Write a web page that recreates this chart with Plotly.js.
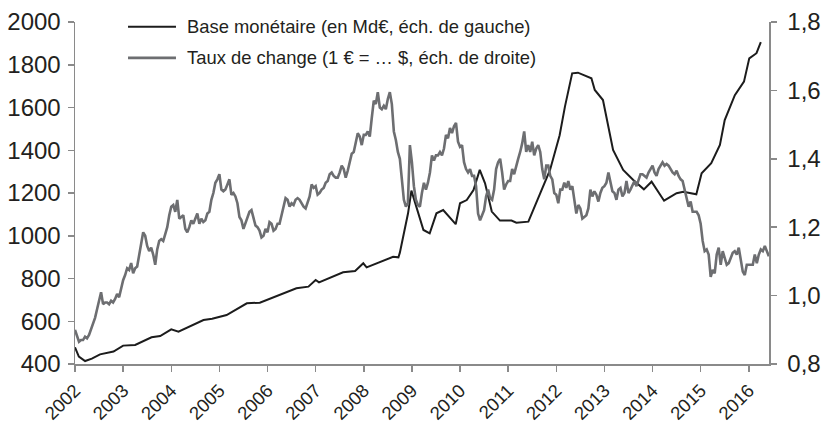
<!DOCTYPE html>
<html>
<head>
<meta charset="utf-8">
<script src="https://cdn.plot.ly/plotly-3.0.1.min.js"></script>
<style>html,body{margin:0;padding:0;background:#fff;}#chart{width:822px;height:423px;}</style>
</head>
<body>
<div id="chart"></div>
<script>
// Base monétaire (Md€), x in decimal years
const baseYears = [2002.00,2002.08,2002.21,2002.35,2002.52,2002.80,2003.00,2003.25,2003.59,2003.77,2004.00,2004.15,2004.67,2004.85,2005.15,2005.57,2005.84,2006.33,2006.60,2006.85,2007.00,2007.07,2007.57,2007.82,2007.99,2008.06,2008.61,2008.72,2008.75,2008.92,2008.99,2009.24,2009.37,2009.51,2009.65,2009.91,2010.00,2010.14,2010.28,2010.41,2010.52,2010.66,2010.83,2011.07,2011.17,2011.42,2011.66,2011.87,2012.07,2012.18,2012.33,2012.45,2012.73,2012.80,2012.97,2013.18,2013.39,2013.60,2013.82,2013.98,2014.24,2014.50,2014.64,2014.91,2015.02,2015.22,2015.40,2015.50,2015.71,2015.90,2016.01,2016.16,2016.25];
const baseValues = [478,435,414,425,445,458,486,489,525,531,562,551,606,612,629,684,687,731,754,762,793,782,829,835,871,852,902,899,921,1105,1211,1027,1011,1105,1120,1054,1152,1167,1214,1308,1245,1113,1071,1071,1061,1066,1199,1308,1470,1604,1760,1763,1737,1682,1635,1401,1308,1261,1217,1253,1164,1199,1206,1194,1292,1339,1425,1541,1658,1721,1830,1854,1906];

// Taux de change (1 € = ... $), semi-monthly readings from Jan 2002
const fxStart = 2002.0;
const fxPerYear = 24;
const fxValues = [
 0.90,0.88,0.865,0.87,0.87,0.88,0.875,0.885,0.90,0.92,0.935,0.96,0.99,1.01,0.975,0.98,0.98,0.975,0.985,0.98,0.99,1.005,0.995,1.02,
 1.045,1.06,1.08,1.075,1.095,1.065,1.08,1.085,1.12,1.155,1.185,1.175,1.145,1.13,1.14,1.12,1.09,1.135,1.16,1.165,1.16,1.18,1.20,1.235,
 1.26,1.265,1.245,1.28,1.225,1.23,1.235,1.195,1.185,1.20,1.22,1.21,1.225,1.24,1.21,1.225,1.215,1.22,1.24,1.245,1.28,1.30,1.33,1.34,
 1.355,1.31,1.305,1.31,1.325,1.34,1.295,1.30,1.29,1.27,1.23,1.22,1.195,1.21,1.23,1.245,1.25,1.225,1.205,1.20,1.19,1.17,1.175,1.195,
 1.185,1.215,1.21,1.19,1.195,1.21,1.21,1.235,1.265,1.285,1.28,1.26,1.27,1.265,1.28,1.285,1.28,1.27,1.26,1.255,1.275,1.29,1.325,1.315,
 1.32,1.295,1.30,1.31,1.315,1.33,1.335,1.355,1.36,1.35,1.345,1.345,1.36,1.38,1.37,1.345,1.365,1.39,1.415,1.42,1.45,1.475,1.465,1.44,
 1.47,1.47,1.48,1.465,1.52,1.57,1.56,1.595,1.55,1.545,1.555,1.545,1.575,1.595,1.56,1.48,1.455,1.42,1.40,1.34,1.28,1.26,1.27,1.44,
 1.39,1.32,1.28,1.265,1.26,1.30,1.33,1.31,1.33,1.36,1.41,1.395,1.41,1.41,1.42,1.41,1.43,1.47,1.46,1.49,1.475,1.495,1.505,1.45,
 1.435,1.44,1.39,1.37,1.36,1.37,1.35,1.35,1.32,1.24,1.22,1.235,1.25,1.29,1.31,1.285,1.28,1.31,1.37,1.39,1.40,1.36,1.31,1.325,
 1.335,1.335,1.37,1.355,1.38,1.40,1.42,1.445,1.48,1.42,1.44,1.42,1.45,1.41,1.43,1.44,1.42,1.37,1.34,1.38,1.38,1.35,1.34,1.30,
 1.295,1.27,1.31,1.31,1.33,1.315,1.335,1.31,1.32,1.275,1.24,1.265,1.255,1.225,1.23,1.235,1.255,1.31,1.29,1.305,1.295,1.275,1.30,1.315,
 1.32,1.33,1.36,1.335,1.305,1.30,1.28,1.31,1.315,1.29,1.30,1.335,1.30,1.31,1.325,1.335,1.32,1.335,1.355,1.355,1.35,1.345,1.36,1.37,
 1.38,1.36,1.35,1.37,1.38,1.39,1.38,1.385,1.38,1.37,1.36,1.355,1.365,1.35,1.34,1.335,1.31,1.29,1.26,1.275,1.245,1.245,1.245,1.235,
 1.21,1.16,1.13,1.135,1.12,1.055,1.075,1.065,1.12,1.14,1.09,1.13,1.11,1.09,1.095,1.11,1.125,1.13,1.12,1.14,1.10,1.07,1.06,1.09,
 1.09,1.09,1.09,1.12,1.095,1.12,1.135,1.13,1.145,1.13,1.115
];
const fxYears = fxValues.map((v, i) => fxStart + i / fxPerYear);

const yearTicks = [2002,2003,2004,2005,2006,2007,2008,2009,2010,2011,2012,2013,2014,2015,2016];
const yearLabels = yearTicks.map(String);
const leftTicks = [400,600,800,1000,1200,1400,1600,1800,2000];
const rightTicks = [0.8,1.0,1.2,1.4,1.6,1.8];

const names = ["Base monétaire (en Md€, éch. de gauche)", "Taux de change (1 € = … $, éch. de droite)"];
const colors = ['#1c1c1c', '#6d6e71'];

const axisColor = '#8a8a8a';
const fam = 'Liberation Sans, Arial, sans-serif';
const txt = '#231f20';

const traces = [
  {x: fxYears, y: fxValues, yaxis: 'y2', type: 'scatter', mode: 'lines', name: names[1],
   line: {color: colors[1], width: 2.6}, showlegend: false},
  {x: baseYears, y: baseValues, yaxis: 'y', type: 'scatter', mode: 'lines', name: names[0],
   line: {color: colors[0], width: 2}, showlegend: false}
];

// Legend drawn as paper-positioned keys and labels
const legendRows = [0.986, 0.895];
const shapes = names.map((n, i) => ({type: 'line', xref: 'paper', yref: 'paper',
  x0: 0.0764, x1: 0.1455, y0: legendRows[i], y1: legendRows[i],
  line: {color: colors[i], width: i === 0 ? 2 : 2.6}}));
const annotations = names.map((n, i) => ({xref: 'paper', yref: 'paper', x: 0.1585, y: legendRows[i],
  xanchor: 'left', yanchor: 'middle', text: n, showarrow: false,
  font: {size: 18.4, family: fam, color: txt}}));

const layout = {
  width: 822, height: 423,
  margin: {l: 75, r: 53, t: 22, b: 59, pad: 0},
  paper_bgcolor: '#fff', plot_bgcolor: '#fff',
  separators: ', ',
  font: {family: fam, color: txt},
  showlegend: false,
  shapes: shapes,
  annotations: annotations,
  xaxis: {range: [2002, 2016.42], tickvals: yearTicks, ticktext: yearLabels, tickangle: -45,
          showline: true, linecolor: axisColor, linewidth: 1.5, ticks: 'outside', ticklen: 6,
          tickcolor: axisColor, tickwidth: 1.5, showgrid: false, zeroline: false,
          ticklabelstandoff: 1,
          tickfont: {size: 18.5, family: fam, color: txt}},
  yaxis: {range: [400, 2000], tickvals: leftTicks, showline: true, linecolor: axisColor, linewidth: 1.5,
          ticks: 'outside', ticklen: 6, tickcolor: axisColor, tickwidth: 1.5, showgrid: false, zeroline: false,
          ticklabelstandoff: 2,
          tickfont: {size: 24, family: fam, color: txt}},
  yaxis2: {range: [0.8, 1.8], tickvals: rightTicks, tickformat: '.1f', overlaying: 'y', side: 'right',
           showline: true, linecolor: axisColor, linewidth: 1.5, ticks: 'outside', ticklen: 6,
           tickcolor: axisColor, tickwidth: 1.5, showgrid: false, zeroline: false,
           ticklabelstandoff: 6,
           tickfont: {size: 24, family: fam, color: txt}}
};

Plotly.newPlot('chart', traces, layout, {staticPlot: true, displayModeBar: false});
</script>
</body>
</html>
